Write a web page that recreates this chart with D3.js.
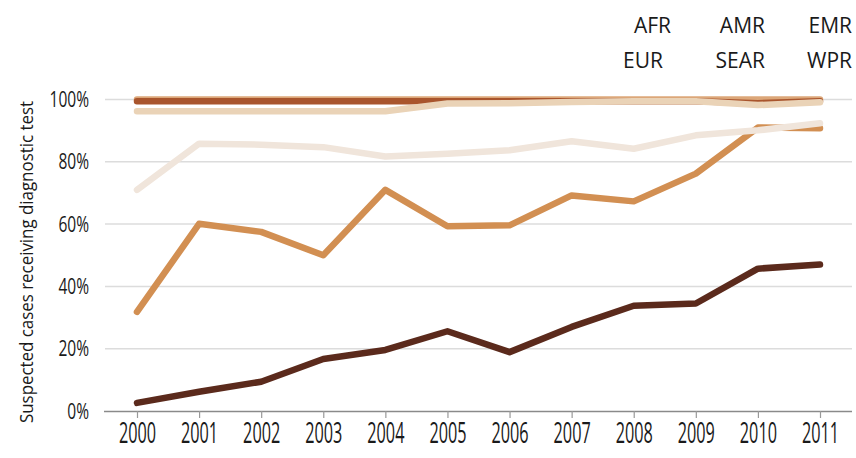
<!DOCTYPE html>
<html><head><meta charset="utf-8">
<script src="https://cdn.jsdelivr.net/npm/d3@7"></script>
<style>
body{margin:0;background:#fff;}
text{font-family:"Open Sans",sans-serif;font-weight:400;fill:#1a1a1a;}
</style></head>
<body><svg id="c" width="856" height="458"></svg>
<script>
const years = [2000,2001,2002,2003,2004,2005,2006,2007,2008,2009,2010,2011];
const yTicks = [0,20,40,60,80,100];
const legendRow1 = ["AFR","AMR","EMR"];
const legendRow2 = ["EUR","SEAR","WPR"];
const seriesNames = ["AFR","EMR","EUR","AMR","SEAR","WPR"];
const afr  = [2.6,6.2,9.4,16.7,19.6,25.6,18.9,27.0,33.8,34.5,45.7,47.0];
const emr  = [31.8,60.1,57.5,50.0,71.0,59.3,59.6,69.2,67.3,76.2,91.0,90.8];
const eur  = [100,100,100,100,100,100,100,100,100,100,100,100];
const amr  = [99.4,99.4,99.4,99.4,99.4,99.4,99.4,99.4,99.4,99.4,98.8,99.4];
const sear = [96.2,96.2,96.2,96.2,96.2,98.7,98.8,99.2,99.4,99.4,98.2,99.1];
const wpr  = [71.0,85.8,85.5,84.7,81.7,82.6,83.7,86.6,84.2,88.5,90.1,92.4];
const colors = ["#5b2a1c","#d28f52","#dca779","#a9552d","#ead3b7","#f0e5db"];
const values = [afr, emr, eur, amr, sear, wpr];

const svg = d3.select("#c");
const x = d3.scalePoint().domain(years).range([137,820]);
const y = d3.scaleLinear().domain([0,100]).range([411,99.5]);

// gridlines
svg.append("g").selectAll("line").data(yTicks.filter(d=>d>0)).join("line")
  .attr("x1",105).attr("x2",852).attr("y1",d=>y(d)).attr("y2",d=>y(d))
  .attr("stroke","#dcdcdc").attr("stroke-width",1.5);

// y labels
svg.append("g").selectAll("g").data(yTicks).join("g")
  .attr("transform",d=>`translate(89,${y(d)}) scale(0.74,1)`)
  .append("text").attr("dy","0.36em")
  .attr("text-anchor","end").attr("font-size",21)
  .text(d=>d+"%");

// x axis
const xa = svg.append("g").attr("transform","translate(0,411)")
  .call(d3.axisBottom(x).tickSize(7).tickPadding(13).tickFormat(d3.format("d")));
xa.select(".domain").attr("d","M104,0.5H852").attr("stroke","#8a8a8a").attr("stroke-width",1.5);
xa.selectAll(".tick line").attr("stroke","#999").attr("stroke-width",1.2);
xa.selectAll(".tick text").attr("font-size",29).attr("font-family",null)
  .attr("fill","#1a1a1a").attr("dy","0.72em").attr("y",11).attr("transform","scale(0.56,1)");

// y title
svg.append("text").attr("transform","translate(33,262) rotate(-90)")
  .attr("text-anchor","middle").attr("font-size",17.5)
  .attr("textLength",322).attr("lengthAdjust","spacingAndGlyphs")
  .text("Suspected cases receiving diagnostic test");

// lines
const line = d3.line().x((d,i)=>x(years[i])).y(d=>y(d));
svg.append("g").selectAll("path").data(values).join("path")
  .attr("d",line).attr("fill","none")
  .attr("stroke",(d,i)=>colors[i]).attr("stroke-width",6.5)
  .attr("stroke-linecap","round").attr("stroke-linejoin","round");

// legend
const ends = [671,765,852];
svg.append("g").selectAll("text").data(legendRow1).join("text")
  .attr("x",(d,i)=>ends[i]).attr("y",33).attr("text-anchor","end").attr("font-size",21)
  .attr("font-weight",300).text(d=>d);
const ends2 = [663,765,852];
svg.append("g").selectAll("text").data(legendRow2).join("text")
  .attr("x",(d,i)=>ends2[i]).attr("y",68).attr("text-anchor","end").attr("font-size",21)
  .attr("font-weight",300).text(d=>d);
</script></body></html>
